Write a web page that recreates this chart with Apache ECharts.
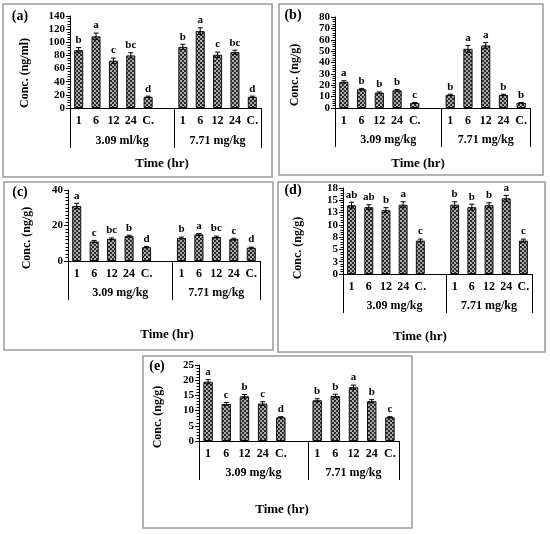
<!DOCTYPE html>
<html>
<head>
<meta charset="utf-8">
<script src="https://cdn.jsdelivr.net/npm/echarts@6/dist/echarts.min.js"></script>
<style>
html, body { margin: 0; padding: 0; background: #fff; }
#chart { width: 550px; height: 534px; }
</style>
</head>
<body>
<div id="chart"></div>
<script>
// tick labels and groups
const timeLabels = ['1', '6', '12', '24', 'C.'];
const groupsA = ['3.09 ml/kg', '7.71 mg/kg'];
const groupsOther = ['3.09 mg/kg', '7.71 mg/kg'];

// (a) ng/ml
const concA = [88, 109, 72, 80, 17, 93, 117, 81, 85, 17];
const errA = [4, 5, 4, 4, 1, 4, 5, 4, 3, 1];
const lettersA = ['b', 'a', 'c', 'bc', 'd', 'b', 'a', 'c', 'bc', 'd'];

// (b) ng/g
const concB = [23, 16.5, 13.5, 15.5, 4.5, 11.5, 52, 55, 11.5, 4.5];
const errB = [1, 0.7, 0.6, 0.7, 0.3, 0.6, 3, 2.5, 0.6, 0.3];
const lettersB = ['a', 'b', 'b', 'b', 'c', 'b', 'a', 'a', 'b', 'b'];

// (c) ng/g
const concC = [31, 11, 12.5, 14, 7.8, 13, 15, 13.5, 12.3, 7.5];
const errC = [1.5, 0.6, 0.5, 0.5, 0.3, 0.5, 0.5, 0.5, 0.5, 0.3];
const lettersC = ['a', 'c', 'bc', 'b', 'd', 'b', 'a', 'bc', 'c', 'd'];

// (d) ng/g
const concD = [14, 13.6, 13, 14.1, 6.8, 14.1, 13.6, 14, 15.4, 6.8];
const errD = [0.6, 0.5, 0.5, 0.6, 0.3, 0.6, 0.6, 0.5, 0.6, 0.3];
const lettersD = ['ab', 'ab', 'b', 'a', 'c', 'b', 'b', 'b', 'a', 'c'];

// (e) ng/g
const concE = [19.5, 12.2, 14.7, 12.3, 7.8, 13.4, 14.8, 17.7, 13.1, 7.8];
const errE = [0.7, 0.5, 0.6, 0.6, 0.2, 0.5, 0.6, 0.7, 0.5, 0.2];
const lettersE = ['a', 'c', 'b', 'c', 'd', 'b', 'b', 'a', 'b', 'c'];

const FONT = '"Liberation Serif", "Times New Roman", serif';

const panels = [
    { tag: '(a)', yName: 'Conc. (ng/ml)', groups: groupsA, values: concA, errs: errA, letters: lettersA,
      max: 140, interval: 20, minor: 5,
      box: [3, 4, 269, 173], grid: [70, 16, 191, 92], lineLen: 40,
      tagPos: [20, 16], namePos: [25, 73], timePos: [162, 164] },
    { tag: '(b)', yName: 'Conc. (ng/g)', groups: groupsOther, values: concB, errs: errB, letters: lettersB,
      max: 80, interval: 10, minor: 5,
      box: [279, 4, 264, 171], grid: [335, 17, 195, 91], lineLen: 39,
      tagPos: [293, 15], namePos: [295, 75], timePos: [418, 164] },
    { tag: '(c)', yName: 'Conc. (ng/g)', groups: groupsOther, values: concC, errs: errC, letters: lettersC,
      max: 40, interval: 20, minor: 10,
      box: [4, 182, 269, 168], grid: [68, 190, 192, 71], lineLen: 39,
      tagPos: [20, 192], namePos: [27, 238], timePos: [167, 335] },
    { tag: '(d)', yName: 'Conc. (ng/g)', groups: groupsOther, values: concD, errs: errD, letters: lettersD,
      max: 17.5, interval: 2.5, minor: 5,
      box: [278, 182, 267, 170], grid: [343, 188, 189, 86], lineLen: 39,
      tagPos: [293, 190], namePos: [298, 248], timePos: [420, 337] },
    { tag: '(e)', yName: 'Conc. (ng/g)', groups: groupsOther, values: concE, errs: errE, letters: lettersE,
      max: 25, interval: 5, minor: 5,
      box: [143, 356, 269, 172], grid: [199, 365, 200, 76], lineLen: 39,
      tagPos: [157, 366], namePos: [158, 417], timePos: [282, 510] }
];

// checkered fill like the Excel pattern
function makePattern() {
    const c = document.createElement('canvas');
    c.width = 4;
    c.height = 4;
    const ctx = c.getContext('2d');
    ctx.fillStyle = '#2b2b2b';
    ctx.fillRect(0, 0, 4, 4);
    ctx.fillStyle = '#acacac';
    ctx.fillRect(0, 0, 2, 2);
    ctx.fillRect(2, 2, 2, 2);
    return c;
}

const pattern = { image: makePattern(), repeat: 'repeat' };
const categories = timeLabels.concat(['']).concat(timeLabels);

// data index 0..9 -> category index (gap at 5)
function catIndex(i) {
    return i < 5 ? i : i + 1;
}

const grids = [];
const xAxes = [];
const yAxes = [];
const series = [];
const graphics = [];

panels.forEach((p, i) => {
    grids.push({ left: p.grid[0], top: p.grid[1], width: p.grid[2], height: p.grid[3], containLabel: false });

    xAxes.push({
        gridIndex: i,
        type: 'category',
        data: categories,
        boundaryGap: true,
        axisLine: { lineStyle: { color: '#000', width: 1 } },
        axisTick: { show: false },
        axisLabel: { interval: 0, color: '#000', fontFamily: FONT, fontWeight: 'bold', fontSize: 12, margin: 7 }
    });
    // group level with separator lines
    xAxes.push({
        gridIndex: i,
        type: 'value',
        position: 'bottom',
        offset: p.lineLen,
        min: 0,
        max: 11,
        axisLine: { show: false },
        splitLine: { show: false },
        axisTick: { show: true, inside: true, length: p.lineLen, customValues: [0, 6, 11],
                    lineStyle: { color: '#000', width: 1 } },
        axisLabel: { inside: true, margin: 1, customValues: [3, 8.5],
                     formatter: v => (v < 6 ? p.groups[0] : p.groups[1]),
                     color: '#000', fontFamily: FONT, fontWeight: 'bold', fontSize: 12 }
    });

    yAxes.push({
        gridIndex: i,
        type: 'value',
        min: 0,
        max: p.max,
        interval: p.interval,
        axisLine: { show: true, lineStyle: { color: '#000', width: 1 } },
        axisTick: { show: true, length: 4, lineStyle: { color: '#000' } },
        minorTick: { show: true, splitNumber: p.minor, length: 2.5, lineStyle: { color: '#000' } },
        splitLine: { show: false },
        axisLabel: { color: '#000', fontFamily: FONT, fontWeight: 'bold', fontSize: 11, margin: 5,
                     formatter: v => String(Math.round(v)) }
    });

    const barData = categories.map(() => '-');
    const errData = [];
    p.values.forEach((v, k) => {
        barData[catIndex(k)] = v;
        errData.push([catIndex(k), v, p.errs[k]]);
    });

    series.push({
        type: 'bar',
        xAxisIndex: 2 * i,
        yAxisIndex: i,
        data: barData,
        barWidth: '52%',
        itemStyle: { color: pattern, borderColor: '#111', borderWidth: 1 },
        silent: true
    });

    series.push({
        type: 'custom',
        xAxisIndex: 2 * i,
        yAxisIndex: i,
        data: errData,
        silent: true,
        z: 5,
        renderItem: function (params, api) {
            const x = api.value(0);
            const v = api.value(1);
            const e = api.value(2);
            const top = api.coord([x, v + e]);
            const bot = api.coord([x, v - e]);
            const cap = 2.5;
            const ls = { stroke: '#000', lineWidth: 1 };
            return {
                type: 'group',
                children: [
                    { type: 'line', shape: { x1: top[0], y1: top[1], x2: bot[0], y2: bot[1] }, style: ls },
                    { type: 'line', shape: { x1: top[0] - cap, y1: top[1], x2: top[0] + cap, y2: top[1] }, style: ls },
                    { type: 'line', shape: { x1: bot[0] - cap, y1: bot[1], x2: bot[0] + cap, y2: bot[1] }, style: ls },
                    { type: 'text', style: { text: p.letters[params.dataIndex], x: top[0], y: top[1] - 2,
                        textAlign: 'center', textVerticalAlign: 'bottom', fill: '#000',
                        font: 'bold 11px ' + FONT } }
                ]
            };
        }
    });

    graphics.push({
        type: 'rect', silent: true,
        shape: { x: p.box[0], y: p.box[1], width: p.box[2], height: p.box[3] },
        style: { fill: 'none', stroke: '#9a9a9a', lineWidth: 1.5 }
    });
    graphics.push({
        type: 'text', silent: true, x: p.tagPos[0], y: p.tagPos[1],
        style: { text: p.tag, textAlign: 'center', textVerticalAlign: 'middle', fill: '#000',
                 font: 'bold 14px ' + FONT }
    });
    graphics.push({
        type: 'text', silent: true, x: p.namePos[0], y: p.namePos[1], rotation: Math.PI / 2,
        style: { text: p.yName, textAlign: 'center', textVerticalAlign: 'middle', fill: '#000',
                 font: 'bold 12px ' + FONT }
    });
    graphics.push({
        type: 'text', silent: true, x: p.timePos[0], y: p.timePos[1],
        style: { text: 'Time (hr)', textAlign: 'center', textVerticalAlign: 'middle', fill: '#000',
                 font: 'bold 13px ' + FONT }
    });
});

const chart = echarts.init(document.getElementById('chart'), null, { renderer: 'canvas' });
chart.setOption({
    backgroundColor: '#fff',
    animation: false,
    grid: grids,
    xAxis: xAxes,
    yAxis: yAxes,
    series: series,
    graphic: graphics
});
</script>
</body>
</html>
